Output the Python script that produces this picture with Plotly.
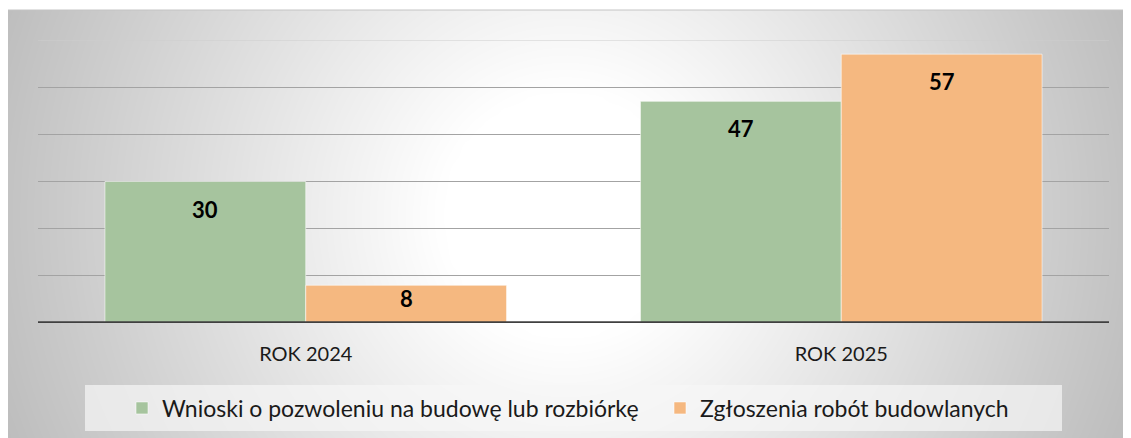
import numpy as np
import plotly.graph_objects as go

# --- data -------------------------------------------------------------------
categories = ["ROK 2024", "ROK 2025"]
series_names = ["Wnioski o pozwoleniu na budowę lub rozbiórkę", "Zgłoszenia robót budowlanych"]
wnioski = [30, 47]
zgloszenia = [8, 57]
y_max = 60
y_step = 10

# --- style ------------------------------------------------------------------
W, H = 1131, 438
OX, OY = 8, 8                  # page margin: the figure starts 8px in
COLORS = ["#a6c49e", "#f5b880"]
INK = "#1a1a1a"
GRID = "#a3a3a3"
AXIS = "#404040"
FONT = "Lato, 'Open Sans', sans-serif"
BARGAP = 0.25

# pixel boxes on screen (left, top, right, bottom)
PANEL = (8, 10, W + OX, H + OY)
PLOT = (38, 40, 1109, 323)
LEGEND_BOX = (85, 385, 1062, 431)
LEGEND_WIDTHS = [493, 330]     # legend entry widths, px


def px_x(x):
    return (x - OX) / W


def px_y(y):
    return 1 - (y - OY) / H


fig = go.Figure()

# radial grey-to-white background of the chart panel, drawn as a smooth heatmap
gx = np.linspace(PANEL[0], PANEL[2], 90)
gy = np.linspace(PANEL[1], PANEL[3], 36)
dx, dy = np.meshgrid(gx - 565, gy - 215)
shade = np.clip((np.hypot(dx, dy) - 120) / 480, 0, 1)
fig.add_trace(
    go.Heatmap(
        x=gx, y=gy, z=shade, zmin=0, zmax=1, zsmooth="best",
        colorscale=[[0, "#ffffff"], [1, "#bdbdbd"]],
        showscale=False, hoverinfo="skip", xaxis="x", yaxis="y",
    )
)

for name, values, color, lw in zip(series_names, [wnioski, zgloszenia], COLORS, LEGEND_WIDTHS):
    fig.add_trace(
        go.Bar(
            x=categories, y=values, name=name, xaxis="x2", yaxis="y2", legendwidth=lw,
            marker=dict(color=color, line=dict(color="rgba(255,255,255,0.55)", width=1)),
            hovertemplate="%{x}<br>" + name + ": %{y}<extra></extra>",
        )
    )

# data labels just inside the top of each bar
plot_w = PLOT[2] - PLOT[0]
plot_h = PLOT[3] - PLOT[1]
bar_px = plot_w / len(categories) * (1 - BARGAP) / 2
annotations = []
for i, values in enumerate([wnioski, zgloszenia]):
    for cat, v in zip(categories, values):
        tall = v * plot_h / y_max > 60
        annotations.append(
            dict(
                x=cat, y=v, xref="x2", yref="y2", text=f"<b>{v}</b>", showarrow=False,
                xshift=(i - 0.5) * bar_px, yanchor="top", yshift=-12 if tall else 2,
                font=dict(family=FONT, size=22, color="#000000"),
            )
        )

shapes = [
    # legend backdrop
    dict(type="rect", xref="paper", yref="paper", layer="above",
         x0=px_x(LEGEND_BOX[0]), x1=px_x(LEGEND_BOX[2]), y0=px_y(LEGEND_BOX[3]), y1=px_y(LEGEND_BOX[1]),
         fillcolor="rgba(246,246,246,0.7)", line=dict(width=0)),
    # panel top border
    dict(type="line", xref="paper", yref="paper", x0=0, x1=1,
         y0=px_y(PANEL[1]), y1=px_y(PANEL[1]), line=dict(color="#c4c4c4", width=1)),
    # top gridline (plotly drops the one on the range edge)
    dict(type="line", xref="x2 domain", yref="y2", x0=0, x1=1, y0=y_max, y1=y_max, layer="above",
         line=dict(color="#cdcdcd", width=1)),
    # category axis baseline
    dict(type="line", xref="x2 domain", yref="y2", x0=0, x1=1, y0=0, y1=0,
         line=dict(color=AXIS, width=3.5)),
]

fig.update_layout(
    width=W, height=H,
    margin=dict(l=0, r=0, t=0, b=0),
    paper_bgcolor="#ffffff", plot_bgcolor="rgba(0,0,0,0)",
    font=dict(family=FONT, color=INK, size=20),
    barmode="group", bargap=BARGAP, bargroupgap=0,
    xaxis=dict(domain=[0, 1], range=[PANEL[0], PANEL[2]], visible=False, fixedrange=True),
    yaxis=dict(domain=[0, px_y(PANEL[1])], range=[PANEL[3], PANEL[1]], visible=False, fixedrange=True),
    xaxis2=dict(domain=[px_x(PLOT[0]), px_x(PLOT[2])], anchor="y2", showgrid=False, zeroline=False,
                showline=False, ticks="", ticklabelstandoff=17, tickfont=dict(size=20, color=INK)),
    yaxis2=dict(domain=[px_y(PLOT[3]), px_y(PLOT[1])], anchor="x2", range=[0, y_max], dtick=y_step,
                showgrid=True, gridcolor=GRID, gridwidth=1, zeroline=False, showticklabels=False, ticks=""),
    showlegend=True,
    legend=dict(orientation="h", x=px_x(122), xanchor="left", y=px_y(408), yanchor="middle",
                bgcolor="rgba(0,0,0,0)", font=dict(size=23, color=INK), traceorder="normal"),
    annotations=annotations,
    shapes=shapes,
)

fig.write_html("out.html")
